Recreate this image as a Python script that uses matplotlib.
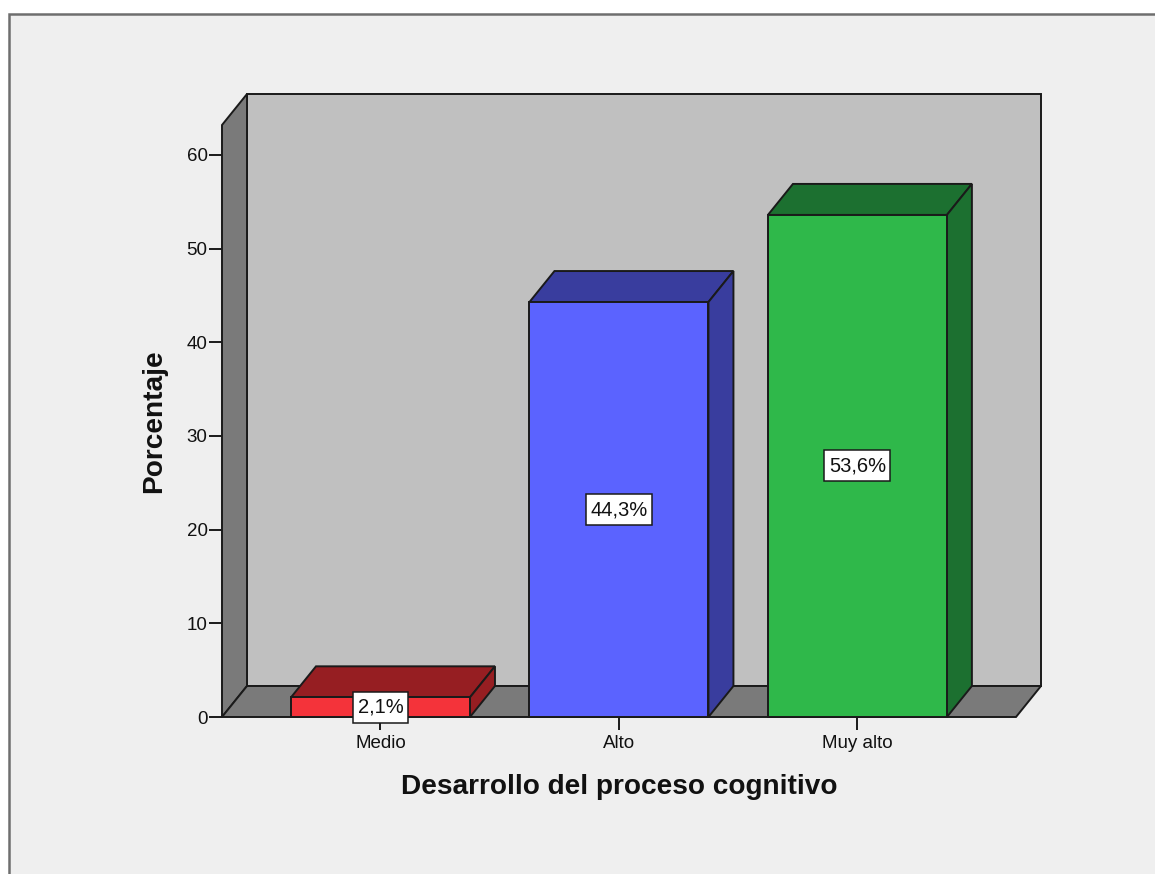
import matplotlib
matplotlib.use("Agg")
import matplotlib.pyplot as plt
from matplotlib.patches import Polygon, Rectangle
from matplotlib.path import Path

plt.rcParams['font.family'] = ['Liberation Sans', 'DejaVu Sans']

categories = ["Medio", "Alto", "Muy alto"]
percentages = [2.1, 44.3, 53.6]
value_labels = ["2,1%", "44,3%", "53,6%"]
y_ticks = [0, 10, 20, 30, 40, 50, 60]
x_title = "Desarrollo del proceso cognitivo"
y_title = "Porcentaje"

front_colors = ["#f4333a", "#5b63ff", "#2fb84a"]
shade_colors = ["#961e22", "#393d9e", "#1c7030"]

W, H = 1155, 874
fig = plt.figure(figsize=(W / 100, H / 100), dpi=100, facecolor="white")
fig.add_artist(Rectangle((8.5 / W, -0.05), 1.1, 1.05 - 13.5 / H, transform=fig.transFigure,
                         facecolor="#efefef", edgecolor="#6e6e6e", linewidth=1.8, zorder=-5))

ax = fig.add_axes([222 / W, 1 - 717 / H, (1016 - 222) / W, (717 - 125) / H])
ax.set_xlim(-0.6646, 2.665)
ax.set_ylim(0, 63.2)
ax.patch.set_visible(False)
for s in ax.spines.values():
    s.set_visible(False)

DX = 25 / 238.5
DY = 31 / 9.367
BW = 179 / 238.5
x0, x1 = ax.get_xlim()
ytop = ax.get_ylim()[1]
LINE = "#1a1a1a"
LW = 1.4


def face(points, color, z):
    ax.add_patch(Polygon(points, closed=True, facecolor=color, edgecolor=LINE,
                         linewidth=LW, joinstyle="miter", clip_on=False, zorder=z))


def label_box(bx, by, bw, bh, mutation_size):
    px, py = 4.5, 6.0
    return Path([(bx - px, by - py), (bx + bw + px, by - py), (bx + bw + px, by + bh + py),
                 (bx - px, by + bh + py), (bx - px, by - py)], closed=True)


# walls and floor
face([(x0 + DX, DY), (x1 + DX, DY), (x1 + DX, ytop + DY), (x0 + DX, ytop + DY)], "#c0c0c0", 1)
face([(x0, 0), (x0 + DX, DY), (x0 + DX, ytop + DY), (x0, ytop)], "#7a7a7a", 1.1)
face([(x0, 0), (x1, 0), (x1 + DX, DY), (x0 + DX, DY)], "#7a7a7a", 1.2)

# bars
for i, v in enumerate(percentages):
    l, r = i - BW / 2, i + BW / 2
    face([(l, v), (r, v), (r + DX, v + DY), (l + DX, v + DY)], shade_colors[i], 2)
    face([(r, 0), (r + DX, DY), (r + DX, v + DY), (r, v)], shade_colors[i], 2)
    face([(l, 0), (r, 0), (r, v), (l, v)], front_colors[i], 2.1)
    ax.text(i, v / 2, value_labels[i], ha="center", va="center", fontsize=14.5, color="#111111",
            zorder=5, clip_on=False,
            bbox=dict(boxstyle=label_box, facecolor="white", edgecolor=LINE, linewidth=1.1))

ax.set_xticks(range(len(categories)), categories)
ax.set_yticks(y_ticks)
ax.tick_params(axis="x", length=9.4, width=LW, color=LINE, labelsize=13.5, labelcolor="#111111", pad=3.5)
ax.tick_params(axis="y", length=9.4, width=LW, color=LINE, labelsize=13.5, labelcolor="#111111", pad=1)

fig.text(619 / W, 1 - 787 / H, x_title, ha="center", va="center",
         fontsize=20.2, fontweight="bold", color="#111111")
fig.text(154 / W, 1 - 421 / H, y_title, ha="center", va="center", rotation=90,
         fontsize=20.2, fontweight="bold", color="#111111")

fig.savefig("out.png", dpi=100, facecolor="white")
